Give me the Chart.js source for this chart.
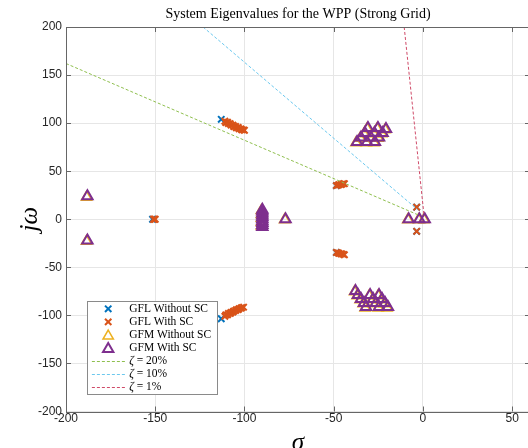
<!DOCTYPE html>
<html><head><meta charset="utf-8">
<script src="https://cdn.jsdelivr.net/npm/chart.js@4.4.0/dist/chart.umd.min.js"></script>
<style>
html,body{margin:0;padding:0;overflow:hidden;background:#fff;width:528px;height:448px}
#wrap{position:absolute;left:0;top:0;width:530px;height:448px}
</style>
</head><body><div id="wrap"><canvas id="c" width="530" height="448"></canvas></div>
<script>
// ---- data ----
const chartTitle = 'System Eigenvalues for the WPP (Strong Grid)';
const xLabel = 'σ';
const yLabel = 'jω';
const xTicks = [-200, -150, -100, -50, 0, 50];
const yTicks = [-200, -150, -100, -50, 0, 50, 100, 150, 200];
const xRange = [-200, 60];
const yRange = [-200, 200];

const gflWithoutSC = [
  [-113, 104], [-113, -103.5], [-151.5, 0], [-3.5, 12.5], [-3.5, -12.5],
  [-48.5, 35], [-48.5, -34.5]
];
const gflWithSC = [
  [-111, 102], [-110.5, 100.5], [-109.5, 101], [-109, 99.5], [-108, 99.5], [-107.5, 98],
  [-106.5, 98], [-106, 96.5], [-105, 96.5], [-104.5, 95], [-103.5, 95.5], [-103, 94],
  [-102, 94], [-101.5, 93], [-100.5, 93], [-100, 92.5],
  [-111, -101], [-110.5, -99.5], [-109.5, -99.5], [-109, -98], [-108, -98], [-107.5, -97],
  [-106.5, -96.5], [-106, -95.5], [-105, -95], [-104.5, -94], [-103.5, -94], [-103, -93],
  [-102, -92.5], [-101.5, -92], [-100.5, -91.5],
  [-48.5, 35], [-47.5, 35.5], [-47, 36], [-46, 36], [-45.5, 36.5], [-44.5, 37], [-44, 37],
  [-48.5, -34.5], [-47.5, -35], [-47, -35.5], [-46, -36], [-45.5, -36], [-44.5, -36.5], [-44, -37],
  [-151, 0], [-150.5, 0], [-150, 0],
  [-3.5, 12.5], [-3.5, -12.5]
];
const gfmWithoutSC = [
  [-188.5, 23], [-188.5, -23],
  [-90.5, 9], [-90.5, 5], [-90.5, 1], [-90.5, -3], [-90.5, -7],
  [-77.5, -0.5], [-8.5, -0.5], [-2.5, -0.5], [0.5, -0.5],
  [-37.5, 79.5], [-35.2, 84.2], [-33, 88.9], [-31.3, 94.1],
  [-31.8, 79.5], [-29.6, 84.2], [-27.6, 88.9], [-25.7, 94.1],
  [-27.4, 79.5], [-25.1, 84.2], [-23.1, 88.9], [-21.2, 93.1],
  [-38.3, -75.5], [-36.9, -79.7], [-35.2, -83.8], [-33.5, -88], [-32.4, -92.2],
  [-30.1, -79.7], [-28.4, -83.8], [-26.8, -88], [-25.1, -92.2],
  [-25.1, -79.7], [-23.4, -83.8], [-21.7, -88], [-20.1, -92.2]
];
const gfmWithSC = [
  [-188, 24], [-188, -22],
  [-90, 10], [-90, 8], [-90, 6], [-90, 4], [-90, 2], [-90, 0], [-90, -2], [-90, -4], [-90, -6], [-90, -8],
  [-77, 0], [-8, 0], [-2, 0], [1, 0],
  [-36.9, 80.3], [-34.7, 85], [-32.5, 89.7], [-30.8, 94.9],
  [-31.3, 80.3], [-29.1, 85], [-27.1, 89.7], [-25.2, 94.9],
  [-26.9, 80.3], [-24.6, 85], [-22.6, 89.7], [-20.7, 93.9],
  [-37.8, -74.7], [-36.4, -78.9], [-34.7, -83], [-33, -87.2], [-31.9, -91.4],
  [-29.6, -78.9], [-27.9, -83], [-26.3, -87.2], [-24.6, -91.4],
  [-24.6, -78.9], [-22.9, -83], [-21.2, -87.2], [-19.6, -91.4]
];
const zeta20Line = [[-200, 162], [-2, 4]];
const zeta10Line = [[-123.2, 200], [-3, 10]];
const zeta1Line = [[-10.5, 200], [0.5, 6]];

const seriesLabels = ['GFL Without SC', 'GFL With SC', 'GFM Without SC', 'GFM With SC', 'ζ = 20%', 'ζ = 10%', 'ζ = 1%'];

// ---- build chart ----
const toXY = arr => arr.map(p => ({x: p[0], y: p[1]}));
const serif = '"Liberation Serif", "Times New Roman", serif';
const sans = '"Liberation Sans", Arial, sans-serif';

function markerSet(label, data, style, color, r, bw, order) {
  return {type: 'scatter', label, data: toXY(data), pointStyle: style, pointRadius: r,
    pointBorderWidth: bw, borderColor: color, backgroundColor: 'rgba(0,0,0,0)',
    pointBackgroundColor: 'rgba(0,0,0,0)', showLine: false, order};
}
function lineSet(label, data, color, order) {
  return {type: 'line', label, data: toXY(data), borderColor: color, borderWidth: 1,
    borderDash: [3, 2], pointRadius: 0, fill: false, tension: 0, order};
}

const datasets = [
  markerSet(seriesLabels[0], gflWithoutSC, 'crossRot', '#0072BD', 4.5, 2, 6),
  markerSet(seriesLabels[1], gflWithSC, 'crossRot', '#D95319', 4.5, 2, 5),
  markerSet(seriesLabels[2], gfmWithoutSC, 'triangle', '#EDB120', 6, 1.5, 4),
  markerSet(seriesLabels[3], gfmWithSC, 'triangle', '#7E2F8E', 6, 2, 3),
  lineSet(seriesLabels[4], zeta20Line, '#8fbf4f', 2),
  lineSet(seriesLabels[5], zeta10Line, '#6cc8ee', 1),
  lineSet(seriesLabels[6], zeta1Line, '#cf4a68', 0)
];

function drawMarker(ctx, ds, x, y) {
  ctx.save();
  ctx.strokeStyle = ds.borderColor;
  ctx.lineWidth = ds.pointBorderWidth;
  const r = ds.pointRadius;
  ctx.beginPath();
  if (ds.pointStyle === 'crossRot') {
    const o = r * Math.SQRT1_2;
    ctx.moveTo(x - o, y - o); ctx.lineTo(x + o, y + o);
    ctx.moveTo(x + o, y - o); ctx.lineTo(x - o, y + o);
  } else {
    for (let i = 0; i < 3; i++) {
      const a = i * 2 * Math.PI / 3;
      const px = x + Math.sin(a) * r, py = y - Math.cos(a) * r;
      if (i === 0) ctx.moveTo(px, py); else ctx.lineTo(px, py);
    }
    ctx.closePath();
  }
  ctx.stroke();
  ctx.restore();
}

const framePlugin = {
  id: 'frame',
  afterDraw(chart) {
    const ctx = chart.ctx, ca = chart.chartArea;
    const xs = chart.scales.x, ys = chart.scales.y;
    ctx.save();
    ctx.strokeStyle = '#666';
    ctx.lineWidth = 1;
    ctx.strokeRect(Math.round(ca.left) + 0.5, Math.round(ca.top) + 0.5,
      Math.round(ca.right - ca.left), Math.round(ca.bottom - ca.top));
    const tl = 5;
    ctx.beginPath();
    xTicks.forEach(v => {
      const px = Math.round(xs.getPixelForValue(v)) + 0.5;
      ctx.moveTo(px, ca.bottom); ctx.lineTo(px, ca.bottom - tl);
      ctx.moveTo(px, ca.top); ctx.lineTo(px, ca.top + tl);
    });
    yTicks.forEach(v => {
      const py = Math.round(ys.getPixelForValue(v)) + 0.5;
      ctx.moveTo(ca.left, py); ctx.lineTo(ca.left + tl, py);
      ctx.moveTo(ca.right, py); ctx.lineTo(ca.right - tl, py);
    });
    ctx.stroke();

    // legend box
    const fs = 11.5;
    const rowH = 13.1;
    ctx.font = fs + 'px ' + serif;
    const dsets = chart.data.datasets;
    let maxW = 0;
    dsets.forEach(ds => { maxW = Math.max(maxW, ctx.measureText(ds.label).width); });
    const bx = Math.round(ca.left + 21) + 0.5;
    const bh = Math.round(rowH * (dsets.length - 1) + 14.6);
    const by = Math.round(ca.bottom - 18 - bh) + 0.5;
    const bw = Math.round(42 + maxW + 6);
    ctx.fillStyle = '#fff';
    ctx.fillRect(bx, by, bw, bh);
    ctx.strokeStyle = '#8a8a8a';
    ctx.strokeRect(bx, by, bw, bh);
    dsets.forEach((ds, i) => {
      const cy = by + 7.3 + i * rowH;
      if (ds.type === 'line') {
        ctx.save();
        ctx.strokeStyle = ds.borderColor; ctx.lineWidth = 1; ctx.setLineDash(ds.borderDash);
        ctx.beginPath(); ctx.moveTo(bx + 4.4, Math.round(cy) + 0.5); ctx.lineTo(bx + 37.7, Math.round(cy) + 0.5); ctx.stroke();
        ctx.restore();
      } else {
        drawMarker(ctx, ds, bx + 20.7, cy + (ds.pointStyle === 'triangle' ? 1 : 0));
      }
      ctx.fillStyle = '#000';
      ctx.textBaseline = 'middle';
      ctx.textAlign = 'left';
      const tx = bx + 41.7;
      const lbl = ds.label;
      if (lbl.charAt(0) === 'ζ') {
        ctx.font = 'italic ' + fs + 'px ' + serif;
        ctx.fillText('ζ', tx, cy);
        const w = ctx.measureText('ζ').width;
        ctx.font = fs + 'px ' + serif;
        ctx.fillText(lbl.slice(1), tx + w, cy);
      } else {
        ctx.font = fs + 'px ' + serif;
        ctx.fillText(lbl, tx, cy);
      }
    });
    ctx.restore();
  }
};

new Chart(document.getElementById('c'), {
  data: {datasets},
  options: {
    responsive: false,
    animation: false,
    devicePixelRatio: 1,
    events: [],
    layout: {padding: 0, autoPadding: false},
    plugins: {
      legend: {display: false},
      tooltip: {enabled: false},
      title: {
        display: true, text: chartTitle, fullSize: false, color: '#000',
        font: {family: serif, size: 14, weight: 'normal'},
        padding: {top: 5.5, bottom: 4.7}
      }
    },
    scales: {
      x: {
        type: 'linear', position: 'bottom', min: xRange[0], max: xRange[1],
        afterBuildTicks: s => { s.ticks = xTicks.map(v => ({value: v})); },
        afterFit: s => { s.height = 36.5; s.paddingLeft = 0; s.paddingRight = 0; },
        grid: {color: '#e6e6e6', drawTicks: false, lineWidth: 1},
        border: {display: false},
        ticks: {color: '#262626', font: {family: sans, size: 12}, padding: 0, maxRotation: 0,
          callback: v => String(v)},
        title: {display: true, text: xLabel, color: '#000',
          font: {family: serif, size: 25, style: 'italic', lineHeight: 0.4}, padding: {top: -10, bottom: 0}}
      },
      y: {
        type: 'linear', position: 'left', min: yRange[0], max: yRange[1],
        afterBuildTicks: s => { s.ticks = yTicks.map(v => ({value: v})); },
        afterFit: s => { s.width = 66; s.paddingTop = 0; s.paddingBottom = 0; },
        grid: {color: '#e6e6e6', drawTicks: false, lineWidth: 1},
        border: {display: false},
        ticks: {color: '#262626', font: {family: sans, size: 12}, padding: 4,
          callback: v => String(v)},
        title: {display: true, text: yLabel, color: '#000',
          font: {family: serif, size: 25, style: 'italic'}, padding: {top: 15, bottom: 0}}
      }
    }
  },
  plugins: [framePlugin]
});
</script>
</body></html>
